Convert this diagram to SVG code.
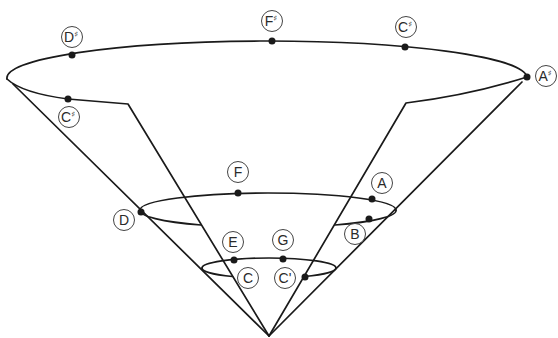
<svg xmlns="http://www.w3.org/2000/svg" width="558" height="338" viewBox="0 0 558 338">
<style>
.ln{fill:none;stroke:#1a1a1a;stroke-width:1.7;stroke-linecap:round;stroke-linejoin:round}
.dot{fill:#1a1a1a}
.lc{fill:#fff;stroke:#444;stroke-width:1}
.lt{font-family:"Liberation Sans",Arial,sans-serif;font-size:14px;fill:#2a2a2a;text-anchor:middle}
.sh{font-family:"DejaVu Sans",sans-serif;font-size:8px}
</style>
<rect width="558" height="338" fill="#fff"/>
<g id="connectors">
<path class="ln" d="M7,79 A260,37 0 0 1 527,77"/>
<path class="ln" d="M7,79 Q22,93 68,99 L128,104 L269,336"/>
<path class="ln" d="M527,77 Q470,95 406,103 L269,336"/>
<path class="ln" d="M13,84 L269,336 L522,82"/>
<path class="ln" d="M140,210 A128,17 0 0 1 396,210"/>
<path class="ln" d="M140,210 A128,17 0 0 0 201,225"/>
<path class="ln" d="M335,225 A128,17 0 0 0 396,210"/>
<path class="ln" d="M202,268 A67,10 0 0 1 336,268"/>
<path class="ln" d="M202,268 A67,10 0 0 0 232.5,276.5"/>
<path class="ln" d="M304.5,276.5 A67,10 0 0 0 336,268"/>
</g>
<g id="n-Dsharp"><circle class="dot" cx="72" cy="55" r="3.5"/><circle class="lc" cx="72" cy="37" r="10.5"/><text class="lt" x="71" y="42">D<tspan class="sh" dy="-5">♯</tspan></text></g>
<g id="n-Fsharp"><circle class="dot" cx="272" cy="41" r="3.5"/><circle class="lc" cx="272" cy="21" r="10.5"/><text class="lt" x="271" y="26">F<tspan class="sh" dy="-5">♯</tspan></text></g>
<g id="n-Csharp"><circle class="dot" cx="405" cy="47" r="3.5"/><circle class="lc" cx="406" cy="27" r="10.5"/><text class="lt" x="405" y="32">C<tspan class="sh" dy="-5">♯</tspan></text></g>
<g id="n-Asharp"><circle class="dot" cx="527" cy="77" r="3.5"/><circle class="lc" cx="546" cy="76" r="10.5"/><text class="lt" x="545" y="81">A<tspan class="sh" dy="-5">♯</tspan></text></g>
<g id="n-Csharp2"><circle class="dot" cx="68" cy="99" r="3.5"/><circle class="lc" cx="69" cy="117" r="10.5"/><text class="lt" x="68" y="122">C<tspan class="sh" dy="-5">♯</tspan></text></g>
<g id="n-F"><circle class="dot" cx="238" cy="193" r="3.5"/><circle class="lc" cx="238" cy="172" r="10.5"/><text class="lt" x="238" y="177">F</text></g>
<g id="n-A"><circle class="dot" cx="372" cy="199" r="3.5"/><circle class="lc" cx="382" cy="183" r="10.5"/><text class="lt" x="382" y="188">A</text></g>
<g id="n-D"><circle class="dot" cx="141" cy="212" r="3.5"/><circle class="lc" cx="124" cy="220" r="10.5"/><text class="lt" x="124" y="225">D</text></g>
<g id="n-B"><circle class="dot" cx="369" cy="219" r="3.5"/><circle class="lc" cx="355" cy="234" r="10.5"/><text class="lt" x="355" y="239">B</text></g>
<g id="n-E"><circle class="dot" cx="234" cy="260" r="3.5"/><circle class="lc" cx="233" cy="242" r="10.5"/><text class="lt" x="233" y="247">E</text></g>
<g id="n-G"><circle class="dot" cx="283" cy="259" r="3.5"/><circle class="lc" cx="283" cy="240" r="10.5"/><text class="lt" x="283" y="245">G</text></g>
<g id="n-C"><circle class="lc" cx="248" cy="278" r="10.5"/><text class="lt" x="248" y="283">C</text></g>
<g id="n-Cprime"><circle class="dot" cx="305" cy="277" r="3.5"/><circle class="lc" cx="285" cy="278" r="10.5"/><text class="lt" x="285" y="283">C'</text></g>
</svg>
